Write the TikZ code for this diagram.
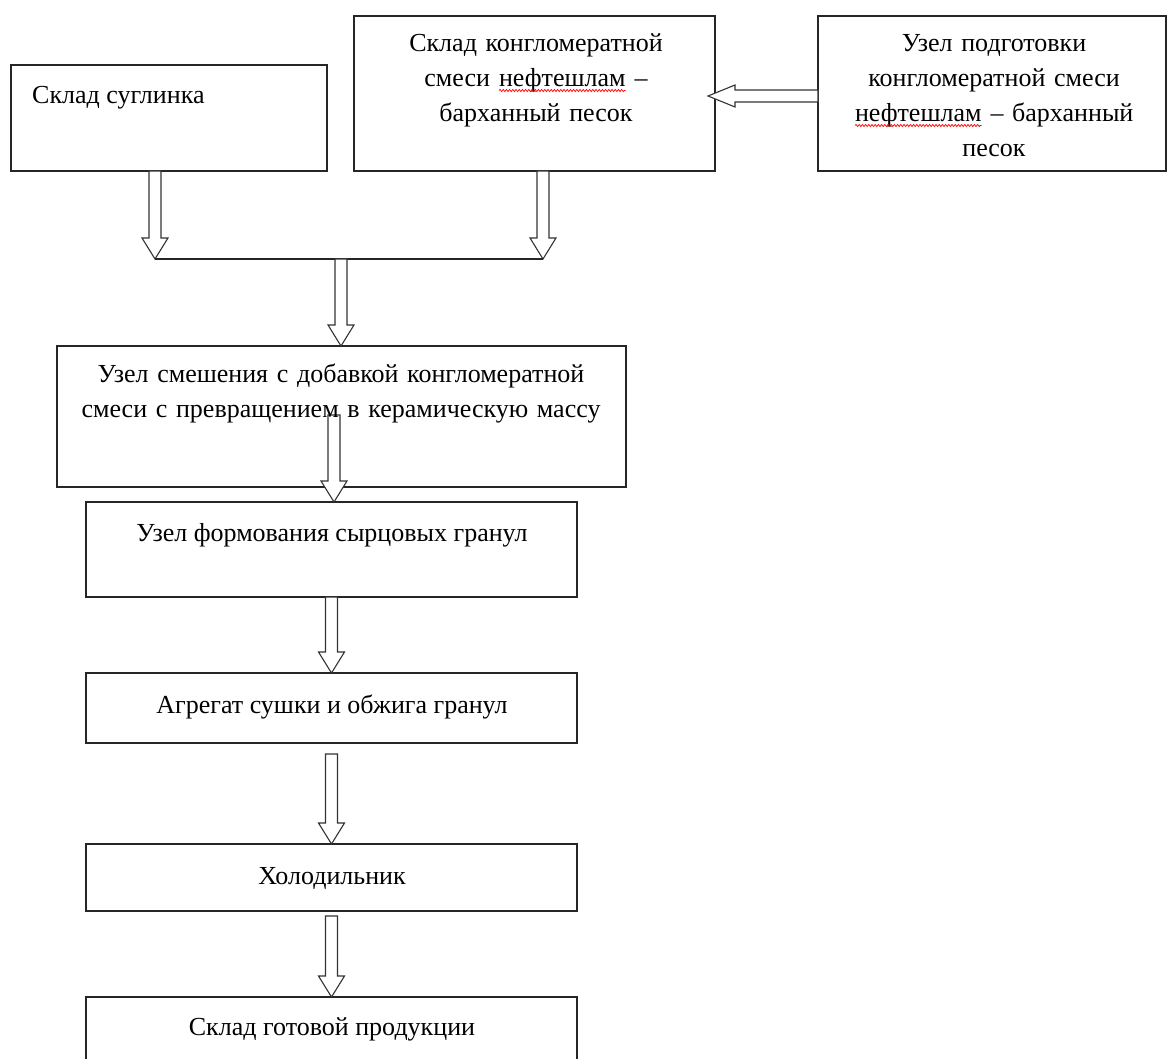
\documentclass[tikz,border=0pt]{standalone}
\usepackage{fontspec}
\setmainfont{Liberation Serif}
\usetikzlibrary{calc,decorations.pathmorphing}
\newcommand\redwave[1]{\tikz[baseline=(wv.base)]{\node[inner sep=0pt,outer sep=0pt] (wv) {#1};
  \draw[red, line width=0.7pt, decorate, decoration={snake, amplitude=1.1pt, segment length=3.2pt}]
  ([yshift=-3.5pt]wv.base west) -- ([yshift=-3.5pt]wv.base east);}}
\newcommand\BlkDown[2]{\draw[blkarrow] let \p1=(#1), \p2=(#2) in
  (\x1-6pt,\y1) -- (\x1-6pt,\y2+21pt) -- (\x1-13pt,\y2+21pt) -- (\x1,\y2)
  -- (\x1+13pt,\y2+21pt) -- (\x1+6pt,\y2+21pt) -- (\x1+6pt,\y1) -- cycle;}
\newcommand\BlkLeft[2]{\draw[blkarrow] let \p1=(#1), \p2=(#2) in
  (\x1,\y1+6pt) -- (\x2+27pt,\y1+6pt) -- (\x2+27pt,\y1+11pt) -- (\x2,\y1)
  -- (\x2+27pt,\y1-11pt) -- (\x2+27pt,\y1-6pt) -- (\x1,\y1-6pt) -- cycle;}
\begin{document}
\begin{tikzpicture}[x=1pt,y=-1pt,
  box/.style={draw=black!85, line width=1.3pt, inner sep=0pt, outer sep=0pt, anchor=north west},
  blkarrow/.style={draw=black!80, line width=1.1pt, fill=white, line join=miter},
  joinline/.style={draw=black!85, line width=1.3pt},
  txt/.style={inner sep=0pt, font=\fontsize{26}{35}\selectfont, align=center},
]
\useasboundingbox (0,0) rectangle (1167,1059);
% boxes
\node[box, minimum width=316pt, minimum height=106pt] (b1) at (11,65) {};
\node[box, minimum width=361pt, minimum height=155pt] (b2) at (354,16) {};
\node[box, minimum width=348pt, minimum height=155pt] (b4) at (818,16) {};
\node[box, minimum width=569pt, minimum height=141pt] (b3) at (57,346) {};
\node[box, minimum width=491pt, minimum height=95pt] (b5) at (86,502) {};
\node[box, minimum width=491pt, minimum height=70pt] (b6) at (86,673) {};
\node[box, minimum width=491pt, minimum height=67pt] (b7) at (86,844) {};
\node[box, minimum width=491pt, minimum height=80pt] (b8) at (86,997) {};
% junction coordinates
\coordinate (j1) at (155,259);
\coordinate (j2) at (543,259);
\coordinate (j3) at (341,259);
\coordinate (s4) at (334,415);
\coordinate (h) at (0,96);
% connectors
\BlkDown{b1.south -| j1}{j1}
\BlkDown{b2.south -| j2}{j2}
\draw[joinline] (j1) -- (j2);
\BlkDown{j3}{b3.north -| j3}
\BlkLeft{b4.west |- h}{$(b2.east |- h)+(-7,0)$}
\BlkDown{s4}{b5.north -| s4}
\BlkDown{b5.south}{b6.north}
\BlkDown{$(b6.south)+(0,11)$}{b7.north}
\BlkDown{$(b7.south)+(0,5)$}{b8.north}
% texts
\node[txt, anchor=base west] (t1) at (32,104) {Склад суглинка};
\node[txt, text width=355pt, anchor=base] (t2) at (536,52) {Склад конгломератной\\смеси \redwave{нефтешлам} –\\барханный песок};
\node[txt, text width=340pt, anchor=base] (t4) at (994,52) {Узел подготовки\\конгломератной смеси\\\redwave{нефтешлам} – барханный\\песок};
\node[txt, text width=565pt, anchor=base] (t3) at (341,382) {Узел смешения с добавкой конгломератной\\смеси с превращением в керамическую массу};
\node[txt, anchor=base] (t5) at (332,541) {Узел формования сырцовых гранул};
\node[txt, anchor=base] (t6) at (332,713) {Агрегат сушки и обжига гранул};
\node[txt, anchor=base] (t7) at (332,884) {Холодильник};
\node[txt, anchor=base] (t8) at (332,1035) {Склад готовой продукции};
\end{tikzpicture}
\end{document}
